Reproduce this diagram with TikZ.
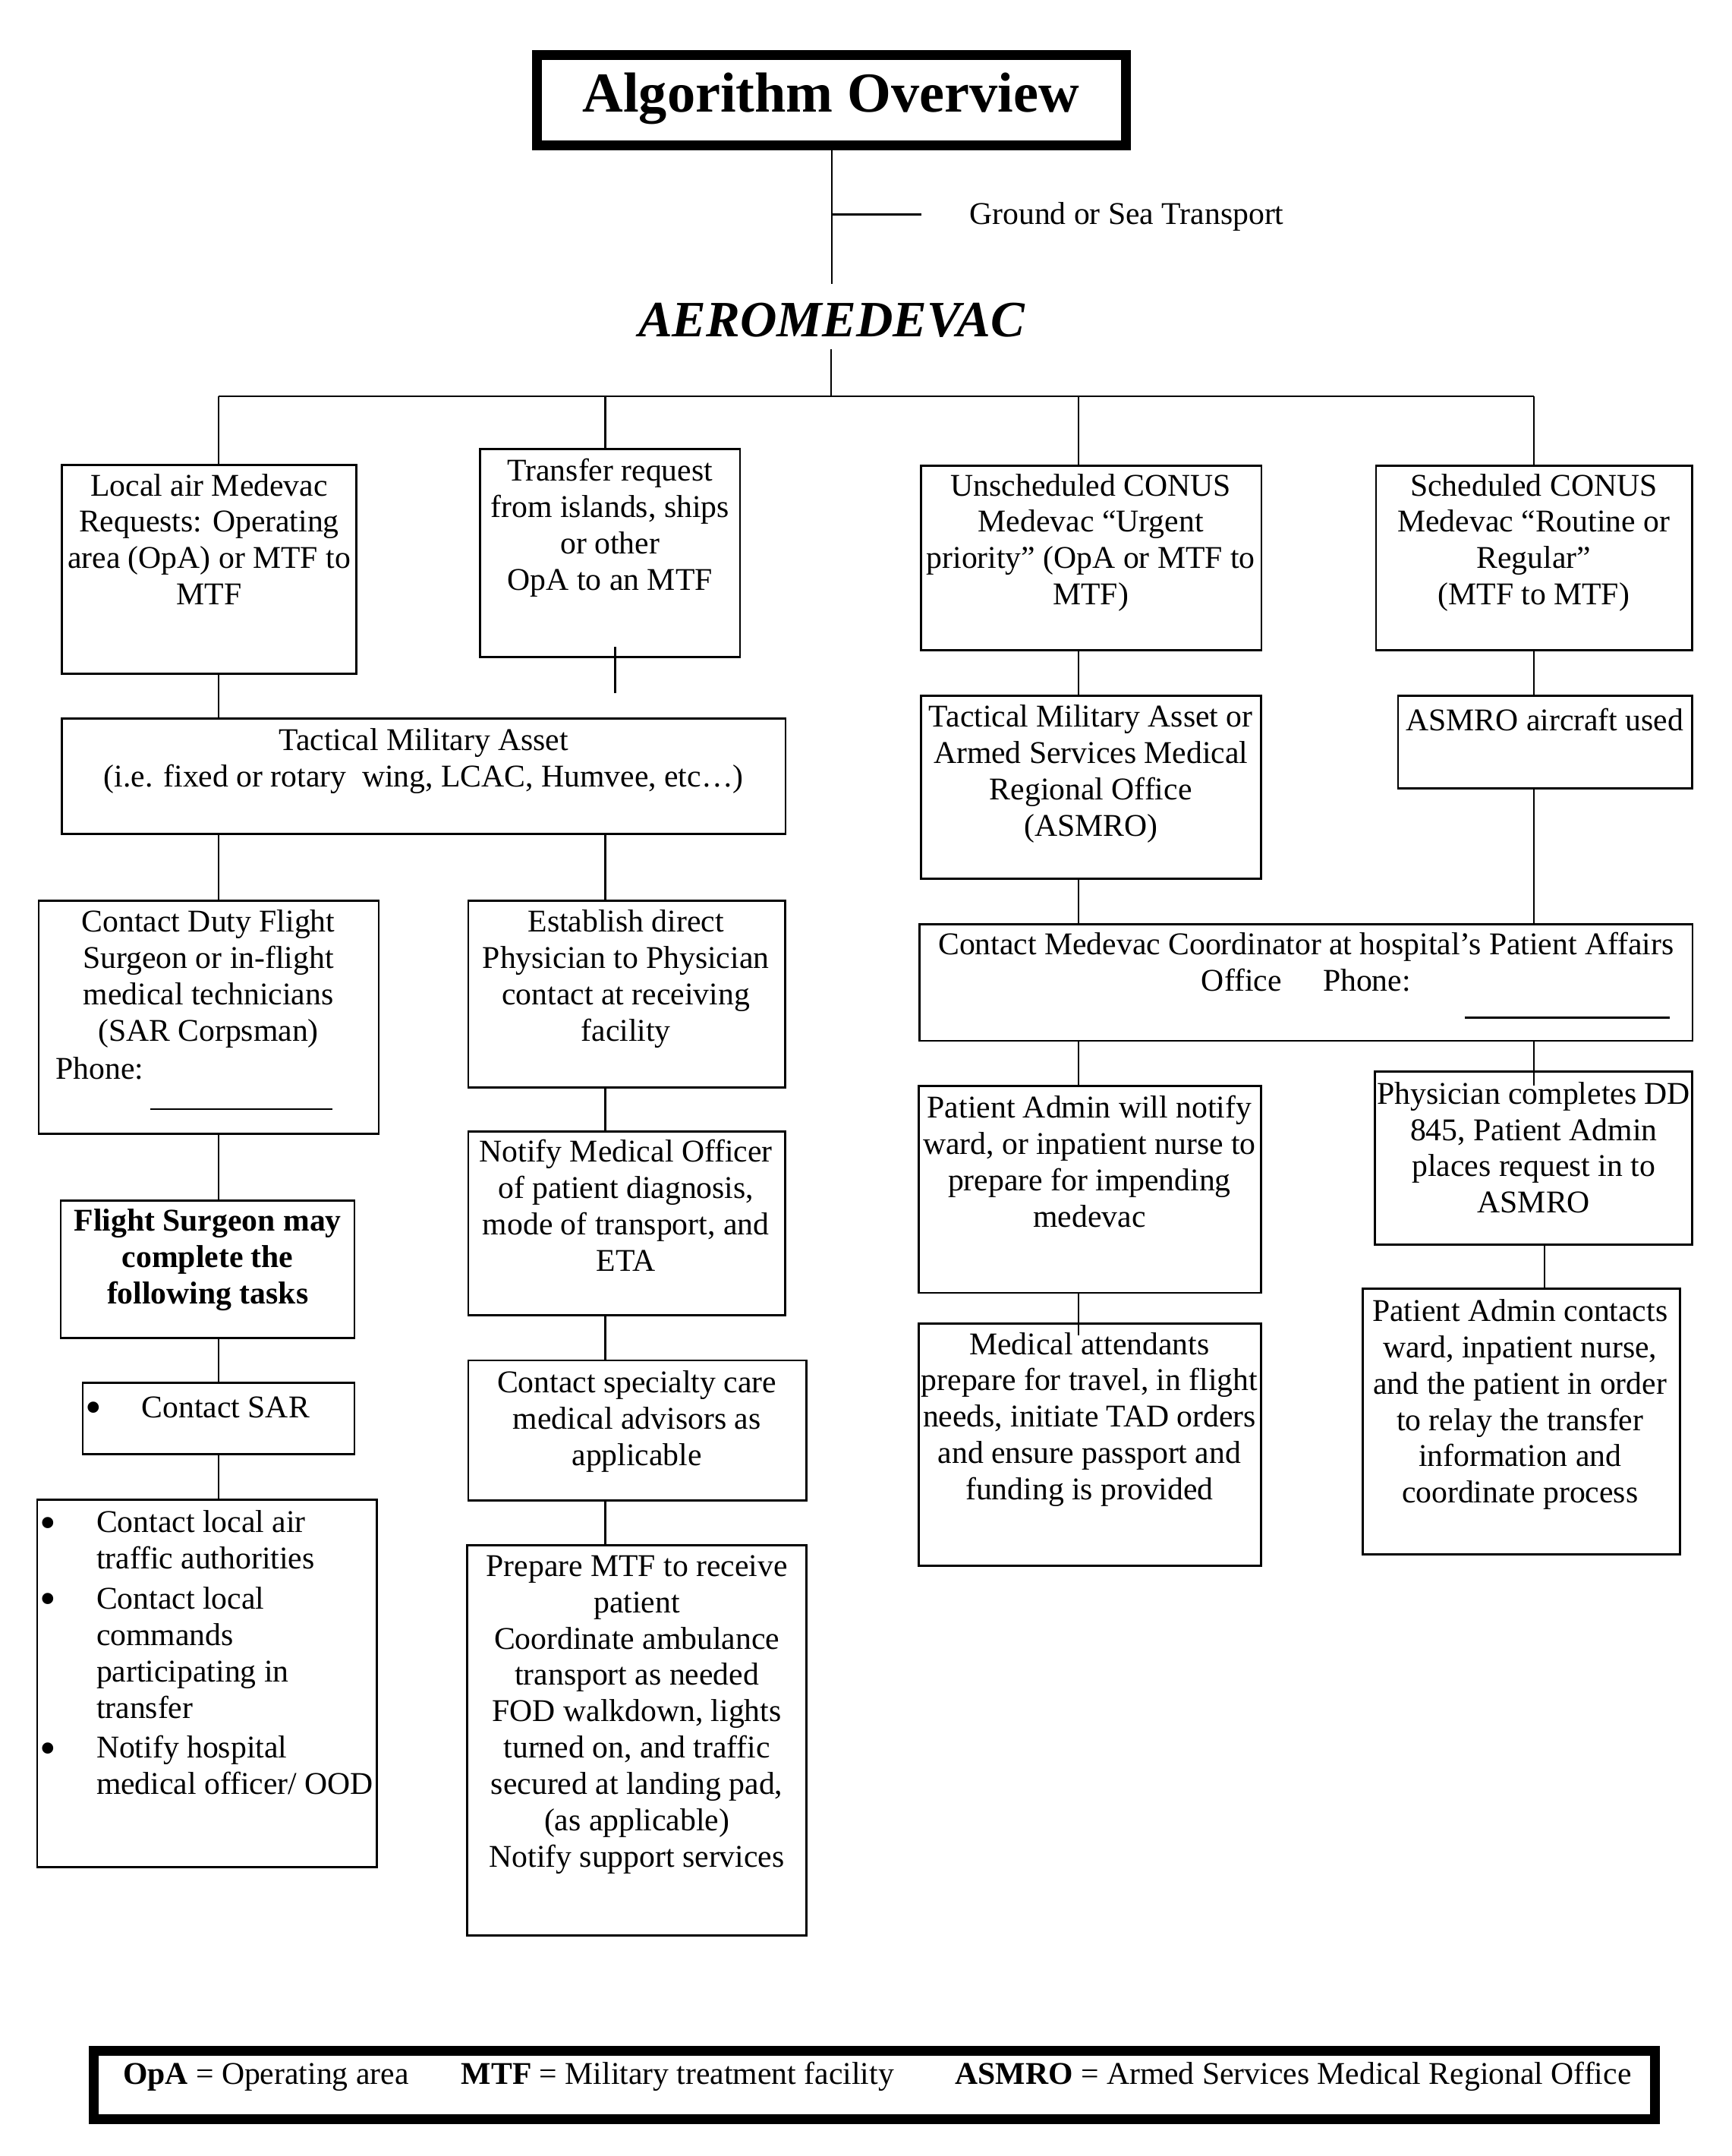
\documentclass[tikz,border=0pt]{standalone}
\usepackage{fontspec}
\setmainfont{Liberation Serif}
\usetikzlibrary{fit}
\newcommand\bodyfont{\fontsize{11.5}{13.2}\selectfont}
\newcommand\bigbul{\llap{\raisebox{-2pt}{\fontsize{17}{13}\selectfont •}\hspace{14.6pt}}}
\begin{document}
\begin{tikzpicture}[x=0.5pt,y=-0.5pt,
  box/.style={draw,line width=0.75pt,inner sep=0pt},
  thickbox/.style={draw,line width=3.6pt,inner sep=0pt},
  txt/.style={inner sep=0pt,align=center,font=\bodyfont,anchor=north,execute at begin node=\strut,yshift=-1pt},
  ltxt/.style={inner sep=0pt,align=left,font=\bodyfont,anchor=north west,execute at begin node=\strut,yshift=-1pt},
  conn/.style={line width=0.6pt}]
\fill[white] (0,0) rectangle (1259,1567);
\useasboundingbox (0,0) rectangle (1259,1567);

% title
\node[thickbox, fit={(390.5,40) (818.5,105.5)}] (title) {};
\node[font=\fontsize{20.5}{24}\selectfont\bfseries, inner sep=0pt, anchor=base] (titlet) at (604,81.3) {Algorithm Overview};
\coordinate (gtop) at (604.5,206.6);
\draw[conn] (title.south) -- (gtop);
\coordinate (gt) at (604.5,156);
\coordinate (gte) at (670,156);
\draw[line width=0.75pt] (gt) -- (gte);
\node[font=\bodyfont, inner sep=0pt, anchor=base west] (gst) at (704.4,162.8) {Ground or Sea Transport};
\node[font=\fontsize{18.5}{22}\selectfont\bfseries\itshape, inner sep=0pt, anchor=base] (aero) at (604.6,244.7) {AEROMEDEVAC};

% bar
\coordinate (aerob) at (604,254);
\coordinate (bar) at (604,288);
\coordinate (barL) at (159,288);
\coordinate (barR) at (1115,288);
\coordinate (x2) at (440,288);
\coordinate (x3) at (784,288);
\draw[conn] (aerob) -- (bar);
\draw[conn] (barL) -- (barR);

% top row boxes
\node[box, fit={(45,338) (259,489.5)}] (b1) {};
\node[txt] (b1t) at (152,342) {Local air Medevac\\Requests: Operating\\area (OpA) or MTF to\\MTF};
\node[box, fit={(349,326.3) (538,477.6)}] (b2) {};
\node[txt] (b2t) at (443.5,331) {Transfer request\\from islands, ships\\or other\\OpA to an MTF};
\node[box, fit={(669.6,338.6) (917,472.7)}] (b3) {};
\node[txt] (b3t) at (793,342) {Unscheduled CONUS\\Medevac “Urgent\\priority” (OpA or MTF to\\MTF)};
\node[box, fit={(1000.4,338.6) (1230,472.7)}] (b4) {};
\node[txt] (b4t) at (1115,342) {Scheduled CONUS\\Medevac “Routine or\\Regular”\\(MTF to MTF)};

\draw[conn] (barL) -- (barL |- b1.north);
\draw[conn] (x2) -- (x2 |- b2.north);
\draw[conn] (x3) -- (x3 |- b3.north);
\draw[conn] (barR) -- (barR |- b4.north);

% left/middle columns
\node[box, fit={(45,522.4) (571,606)}] (tact) {};
\node[txt] (tactt) at (308,527) {Tactical Military Asset\\(i.e. fixed or rotary\ \ wing, LCAC, Humvee, etc…)};
\coordinate (s2a) at (447.2,470);
\coordinate (s2b) at (447.2,504);
\draw[conn] (s2a) -- (s2b);
\draw[conn] (b1.south -| barL) -- (tact.north -| barL);

\node[box, fit={(28.1,654.6) (275.4,824)}] (cdf) {};
\node[txt] (cdft) at (151.5,659) {Contact Duty Flight\\Surgeon or in-flight\\medical technicians\\(SAR Corpsman)};
\node[font=\bodyfont, inner sep=0pt, anchor=base west] (cdfp) at (40.1,784.2) {Phone:};
\draw[line width=0.7pt] (109.2,806) -- (241.7,806);

\node[box, fit={(340.4,654.6) (570.8,790.2)}] (est) {};
\node[txt] (estt) at (455,659) {Establish direct\\Physician to Physician\\contact at receiving\\facility};

\draw[conn] (tact.south -| barL) -- (cdf.north -| barL);
\draw[conn] (tact.south -| x2) -- (est.north -| x2);

\node[box, fit={(44.2,872.5) (257.7,972.5)}] (fs) {};
\node[txt, font=\bodyfont\bfseries] (fst) at (151,876.5) {Flight Surgeon may\\complete the\\following tasks};
\draw[conn] (cdf.south -| barL) -- (fs.north -| barL);

\node[box, fit={(60.2,1005.2) (257.7,1057)}] (sar) {};
\node[ltxt, anchor=base west] (sart) at (102.6,1028.2) {\bigbul Contact SAR};
\draw[conn] (fs.south -| barL) -- (sar.north -| barL);

\node[box, fit={(27.1,1090) (274,1357)}] (bul) {};
\node[ltxt] (bult) at (69.7,1095.5) {\bigbul Contact local air\\traffic authorities\\[1.4pt]\bigbul Contact local\\commands\\participating in\\transfer\\[1.4pt]\bigbul Notify hospital\\medical officer/ OOD};
\draw[conn] (sar.south -| barL) -- (bul.north -| barL);

\node[box, fit={(340.4,822.5) (570.8,955.9)}] (mo) {};
\node[txt] (mot) at (455,826) {Notify Medical Officer\\of patient diagnosis,\\mode of transport, and\\ETA};
\draw[conn] (est.south -| x2) -- (mo.north -| x2);

\node[box, fit={(340.4,988.7) (586.1,1090.4)}] (csc) {};
\node[txt] (csct) at (463,994) {Contact specialty care\\medical advisors as\\applicable};
\draw[conn] (mo.south -| x2) -- (csc.north -| x2);

\node[box, fit={(339.6,1123) (586.1,1406.6)}] (pm) {};
\node[txt] (pmt) at (463,1128) {Prepare MTF to receive\\patient\\Coordinate ambulance\\transport as needed\\FOD walkdown, lights\\turned on, and traffic\\secured at landing pad,\\(as applicable)\\Notify support services};
\draw[conn] (csc.south -| x2) -- (pm.north -| x2);

% right columns
\node[box, fit={(669.6,505.8) (916.9,638.8)}] (tasm) {};
\node[txt] (tasmt) at (793,510) {Tactical Military Asset or\\Armed Services Medical\\Regional Office\\(ASMRO)};
\draw[conn] (b3.south -| x3) -- (tasm.north -| x3);

\node[box, fit={(1016.4,505.8) (1230,573)}] (asac) {};
\node[txt] (asact) at (1123,510) {ASMRO aircraft used};
\draw[conn] (b4.south -| barR) -- (asac.north -| barR);

\node[box, fit={(668.4,671.8) (1230.4,756.5)}] (cmc) {};
\node[txt] (cmct) at (949.5,675.4) {Contact Medevac Coordinator at hospital’s Patient Affairs\\Office\hspace{15pt}Phone:};
\draw[line width=0.7pt] (1064.8,739.5) -- (1214,739.5);
\draw[conn] (tasm.south -| x3) -- (cmc.north -| x3);
\draw[conn] (asac.south -| barR) -- (cmc.north -| barR);

\node[box, fit={(668,789.2) (916.7,939.6)}] (pan) {};
\node[txt] (pant) at (792,794) {Patient Admin will notify\\ward, or inpatient nurse to\\prepare for impending\\medevac};
\draw[conn] (cmc.south -| x3) -- (pan.north -| x3);

\node[box, fit={(668,961.8) (916.7,1137.9)}] (ma) {};
\node[txt] (mat) at (792,966) {Medical attendants\\prepare for travel, in flight\\needs, initiate TAD orders\\and ensure passport and\\funding is provided};
\coordinate (maj) at (784,970.6);
\draw[conn] (pan.south -| x3) -- (maj);

\node[box, fit={(999.4,779) (1230,904.8)}] (phy) {};
\node[txt] (phyt) at (1115,784) {Physician completes DD\\845, Patient Admin\\places request in to\\ASMRO};
\coordinate (phyj) at (1115,789);
\draw[conn] (cmc.south -| barR) -- (phyj);

\node[box, fit={(990.7,936.8) (1221.5,1129.6)}] (pac) {};
\node[txt] (pact) at (1105,942) {Patient Admin contacts\\ward, inpatient nurse,\\and the patient in order\\to relay the transfer\\information and\\coordinate process};
\coordinate (x4b) at (1123,905);
\draw[conn] (phy.south -| x4b) -- (pac.north -| x4b);

% legend
\node[thickbox, fit={(68.3,1490.4) (1203,1540.2)}] (legend) {};
\node[font=\bodyfont, inner sep=0pt, anchor=base west] (lg1) at (89,1515) {\textbf{OpA} = Operating area};
\node[font=\bodyfont, inner sep=0pt, anchor=base west] (lg2) at (335,1515) {\textbf{MTF} = Military treatment facility};
\node[font=\bodyfont, inner sep=0pt, anchor=base west] (lg3) at (694,1515) {\textbf{ASMRO} = Armed Services Medical Regional Office};
\end{tikzpicture}
\end{document}
